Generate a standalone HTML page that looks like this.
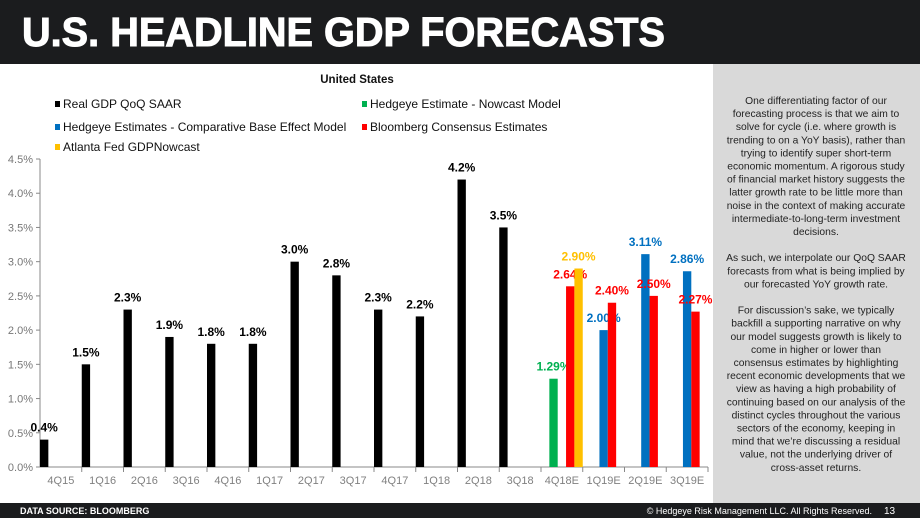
<!DOCTYPE html>
<html><head><meta charset="utf-8"><style>
html,body{margin:0;padding:0;background:#fff;}
svg{display:block;font-family:"Liberation Sans",Arial,sans-serif;}
</style></head><body>
<svg id="chart" width="920" height="518" viewBox="0 0 920 518">
<rect x="0" y="0" width="920" height="64" fill="#1b1c1e"/>
<text x="22" y="46" font-size="41" font-weight="bold" fill="#fff" stroke="#fff" stroke-width="1" textLength="643" lengthAdjust="spacingAndGlyphs">U.S. HEADLINE GDP FORECASTS</text>
<rect x="713" y="64" width="207" height="440" fill="#d9d9d9"/>
<g id="commentary" font-size="10.3" fill="#222" text-anchor="middle"></g>
<rect x="0" y="503" width="920" height="15" fill="#1b1c1e"/>
<text x="20" y="514" font-size="9" font-weight="bold" fill="#fff">DATA SOURCE: BLOOMBERG</text>
<text x="872" y="514" font-size="9" fill="#fff" text-anchor="end">© Hedgeye Risk Management LLC. All Rights Reserved.</text>
<text x="884" y="514" font-size="10" fill="#fff">13</text>
<text x="357" y="83" font-size="11.5" font-weight="bold" fill="#111" text-anchor="middle">United States</text>
<g id="legend" font-size="12" fill="#111"></g>
<g id="plot"></g>
</svg>
<script>
const categories=["4Q15","1Q16","2Q16","3Q16","4Q16","1Q17","2Q17","3Q17","4Q17","1Q18","2Q18","3Q18","4Q18E","1Q19E","2Q19E","3Q19E"];
const realGdp=[0.4,1.5,2.3,1.9,1.8,1.8,3.0,2.8,2.3,2.2,4.2,3.5,null,null,null,null];
const nowcastModel=[null,null,null,null,null,null,null,null,null,null,null,null,1.29,null,null,null];
const baseEffectModel=[null,null,null,null,null,null,null,null,null,null,null,null,null,2.00,3.11,2.86];
const bloombergConsensus=[null,null,null,null,null,null,null,null,null,null,null,null,2.64,2.40,2.50,2.27];
const atlantaFed=[null,null,null,null,null,null,null,null,null,null,null,null,2.90,null,null,null];
const yTicks=[0,0.5,1.0,1.5,2.0,2.5,3.0,3.5,4.0,4.5];
const commentaryLines=["One differentiating factor of our","forecasting process is that we aim to","solve for cycle (i.e. where growth is","trending to on a YoY basis), rather than","trying to identify super short-term","economic momentum. A rigorous study","of financial market history suggests the","latter growth rate to be little more than","noise in the context of making accurate","intermediate-to-long-term investment","decisions.","","As such, we interpolate our QoQ SAAR","forecasts from what is being implied by","our forecasted YoY growth rate.","","For discussion’s sake, we typically","backfill a supporting narrative on why","our model suggests growth is likely to","come in higher or lower than","consensus estimates by highlighting","recent economic developments that we","view as having a high probability of","continuing based on our analysis of the","distinct cycles throughout the various","sectors of the economy, keeping in","mind that we’re discussing a residual","value, not the underlying driver of","cross-asset returns."];
const NS="http://www.w3.org/2000/svg";
function mk(tag,attrs,parent,txt){const e=document.createElementNS(NS,tag);for(const k in attrs)e.setAttribute(k,attrs[k]);if(txt!==undefined)e.textContent=txt;parent.appendChild(e);return e;}
const X0=40,X1=708,Y0=467,YTOP=159,YMAX=4.5;
const catW=(X1-X0)/categories.length, slot=catW/5;
const yScale=v=>Y0-(v/YMAX)*(Y0-YTOP);
const xCat=i=>X0+i*catW;
const plot=document.getElementById('plot');
const cm=document.getElementById('commentary');
commentaryLines.forEach((l,i)=>{const t=mk('text',{x:816,y:104+i*13.1},cm,l);

});
const ax=mk('line',{x1:X0,y1:YTOP,x2:X0,y2:Y0,stroke:'#888','stroke-width':1},plot);


yTicks.forEach(v=>{const y=yScale(v);
const tk=mk('line',{x1:X0-4,y1:y,x2:X0,y2:y,stroke:'#888'},plot);


const t=mk('text',{x:X0-7,y:y+4,'font-size':11,fill:'#777','text-anchor':'end'},plot,v.toFixed(1)+'%');

});
const xa=mk('line',{x1:X0,y1:Y0,x2:X1,y2:Y0,stroke:'#888'},plot);


categories.forEach((c,i)=>{
const tk=mk('line',{x1:xCat(i+1),y1:Y0,x2:xCat(i+1),y2:Y0+5,stroke:'#888'},plot);


const t=mk('text',{x:xCat(i)+catW/2,y:Y0+17,'font-size':11,fill:'#808080','text-anchor':'middle'},plot,c);

});
const series=[
 {vals:realGdp,color:'#000',slotI:0,dec:1,lblColor:'#000',name:'real-gdp',label:'Real GDP QoQ SAAR'},
 {vals:nowcastModel,color:'#00b050',slotI:1,dec:2,lblColor:'#00b050',name:'hedgeye-nowcast',label:'Hedgeye Estimate - Nowcast Model'},
 {vals:baseEffectModel,color:'#0070c0',slotI:2,dec:2,lblColor:'#0070c0',name:'hedgeye-base-effect',label:'Hedgeye Estimates - Comparative Base Effect Model'},
 {vals:bloombergConsensus,color:'#ff0000',slotI:3,dec:2,lblColor:'#ff0000',name:'bloomberg-consensus',label:'Bloomberg Consensus Estimates'},
 {vals:atlantaFed,color:'#ffc000',slotI:4,dec:2,lblColor:'#ffc000',name:'atlanta-fed',label:'Atlanta Fed GDPNowcast'}];
series.forEach(s=>{s.vals.forEach((v,i)=>{if(v===null)return;
const x=xCat(i)+s.slotI*slot, y=yScale(v);
const r=mk('rect',{x:x,y:y,width:slot,height:Y0-y,fill:s.color},plot);


const t=mk('text',{x:x+slot/2,y:y-8,'font-size':12,'font-weight':'bold',fill:s.lblColor,'text-anchor':'middle'},plot,v.toFixed(s.dec)+'%');

});});
const lg=document.getElementById('legend');
const lpos=[[55,108],[362,108],[55,131],[362,131],[55,151]];
series.forEach((s,i)=>{const [x,y]=lpos[i];
const g=mk('g',{},lg);


mk('rect',{x:x,y:y-7,width:5,height:6,fill:s.color},g);
mk('text',{x:x+8,y:y},g,s.label);});
</script>
</body></html>
